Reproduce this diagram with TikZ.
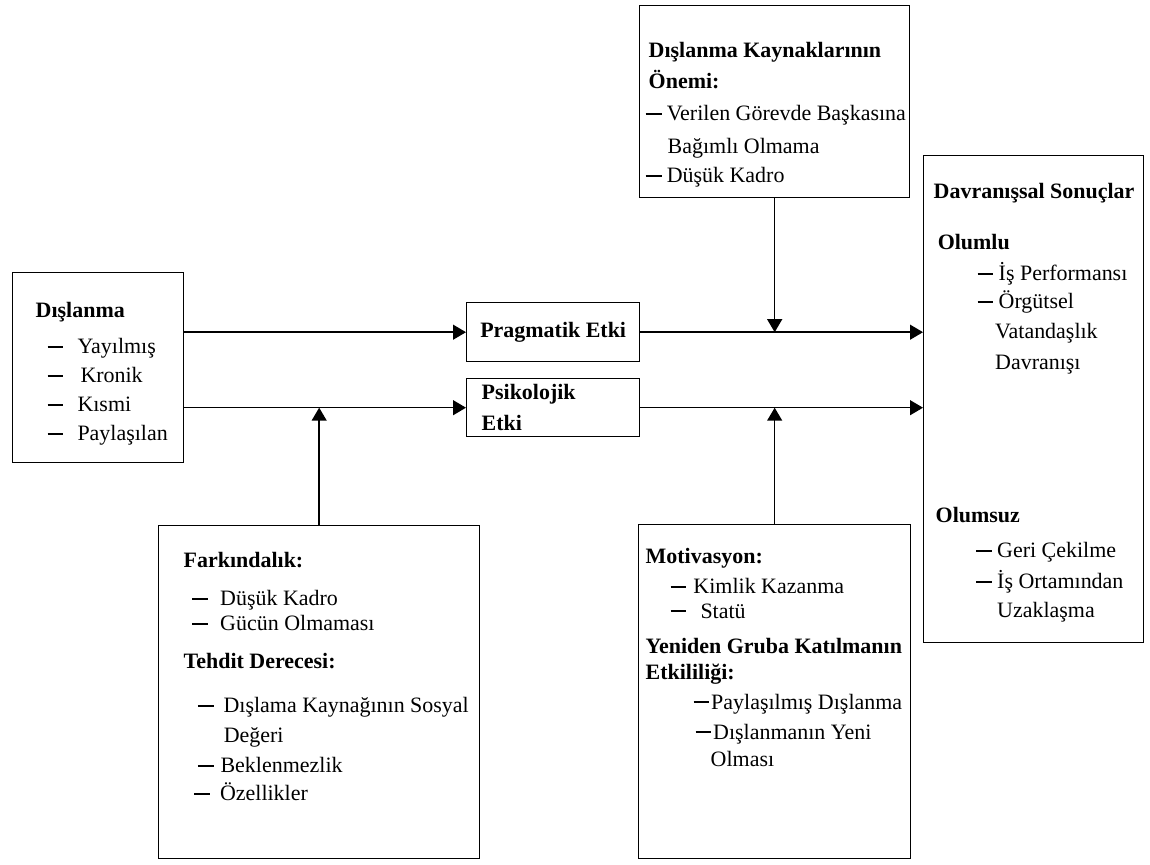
\documentclass[tikz,border=0pt]{standalone}
\usepackage{fontspec}
\setmainfont{Liberation Serif}
\usetikzlibrary{arrows.meta}

\newcommand{\dsh}{\rule[0.26em]{9pt}{1.2pt}}
\newcommand{\itm}[3]{\hspace*{#1}\dsh\hspace*{#2}#3}

\begin{document}
\begin{tikzpicture}[x=0.02cm,y=-0.02cm,line width=0.8pt,
  font=\fontsize{12.5}{16.5}\selectfont,
  box/.style={draw,anchor=north west,inner sep=0pt},
  txt/.style={anchor=north west,inner sep=0pt,align=left},
  etki/.style={box,minimum width=3.46cm,font=\fontsize{12.5}{16.5}\selectfont\bfseries},
  ok/.style={-{Triangle[length=7.4pt,width=8.5pt]}}]
  \useasboundingbox (0,0) rectangle (1150,865);

  % boxes
  \node[box,minimum width=5.4cm,minimum height=3.84cm] (onem) at (639,5) {};
  \node[box,minimum width=4.4cm,minimum height=9.74cm] (sonuc) at (923,155) {};
  \node[box,minimum width=3.42cm,minimum height=3.8cm] (dis) at (12,272) {};
  \node[etki,minimum height=1.18cm] (prag) at (466,302) {Pragmatik Etki};
  \node[etki,minimum height=1.16cm,text width=2.86cm,inner xsep=0.3cm,align=left]
    (psi) at (466,378) {Psikolojik\\[1pt]Etki};
  \node[box,minimum width=6.42cm,minimum height=6.66cm] (fark) at (158,525) {};
  \node[box,minimum width=5.44cm,minimum height=6.68cm] (mot) at (638,524) {};

  % texts
  \node[txt] (onemT) at (648,42) {\textbf{Dışlanma Kaynaklarının}\\[1.1pt]
    \textbf{Önemi:}\\[1.7pt]
    \itm{-1.7pt}{3pt}{Verilen Görevde Başkasına}\\[2.3pt]
    \hspace*{10.8pt}Bağımlı Olmama\\
    \itm{-1.7pt}{3pt}{Düşük Kadro}};
  \node[txt] (sonucT) at (933,183) {\textbf{Davranışsal Sonuçlar}\\[12pt]
    \hspace*{2.3pt}\textbf{Olumlu}\\[1.7pt]
    \itm{25pt}{3pt}{İş Performansı}\\[-0.6pt]
    \itm{25pt}{3pt}{Örgütsel}\\[0.6pt]
    \hspace*{35pt}Vatandaşlık\\[0.6pt]
    \hspace*{35pt}Davranışı};
  \node[txt] (olumsuzT) at (935,507) {\textbf{Olumsuz}\\[3.4pt]
    \itm{23pt}{3pt}{Geri Çekilme}\\[1pt]
    \itm{23pt}{3pt}{İş Ortamından}\\
    \hspace*{35pt}Uzaklaşma};
  \node[txt] (disT) at (35,302) {\textbf{Dışlanma}\\[4pt]
    \itm{6.8pt}{8pt}{Yayılmış}\\
    \itm{6.8pt}{9.7pt}{Kronik}\\
    \itm{6.8pt}{8pt}{Kısmi}\\
    \itm{6.8pt}{8pt}{Paylaşılan}};
  \node[txt] (farkT) at (183,552) {\textbf{Farkındalık:}\\[5pt]
    \itm{5pt}{6.8pt}{Düşük Kadro}\\[-2.3pt]
    \itm{5pt}{6.8pt}{Gücün Olmaması}\\[5pt]
    \textbf{Tehdit Derecesi:}\\[8.5pt]
    \itm{8pt}{5.7pt}{Dışlama Kaynağının Sosyal}\\[0.6pt]
    \hspace*{22.8pt}Değeri\\[0.6pt]
    \itm{8pt}{4pt}{Beklenmezlik}\\[-0.6pt]
    \itm{6pt}{5.7pt}{Özellikler}};
  \node[txt] (motT) at (645,548) {\textbf{Motivasyon:}\\[0.6pt]
    \itm{14.2pt}{4pt}{Kimlik Kazanma}\\[-2.8pt]
    \itm{14.2pt}{8pt}{Statü}\\[3.4pt]
    \textbf{Yeniden Gruba Katılmanın}\\[-1.7pt]
    \textbf{Etkililiği:}\\[0.6pt]
    \itm{27.3pt}{1pt}{Paylaşılmış Dışlanma}\\[0.6pt]
    \itm{28.4pt}{1pt}{Dışlanmanın Yeni}\\[-1.1pt]
    \hspace*{37pt}Olması};

  % connectors
  \coordinate (sA) at (sonuc.west |- prag.east);
  \coordinate (sB) at (sonuc.west |- psi.east);
  \coordinate (jA) at (onem.south |- prag.east);
  \coordinate (jB) at (mot.north |- psi.east);
  \coordinate (jC) at (fark.north |- psi.west);
  \draw[ok] (dis.east |- prag.west) -- (prag.west);
  \draw[ok] (dis.east |- psi.west) -- (psi.west);
  \draw[ok] (prag.east) -- (sA);
  \draw[ok] (psi.east) -- (sB);
  \draw[ok] (onem.south) -- (jA);
  \draw[ok] (mot.north) -- (jB);
  \draw[ok] (fark.north) -- (jC);
\end{tikzpicture}
\end{document}
